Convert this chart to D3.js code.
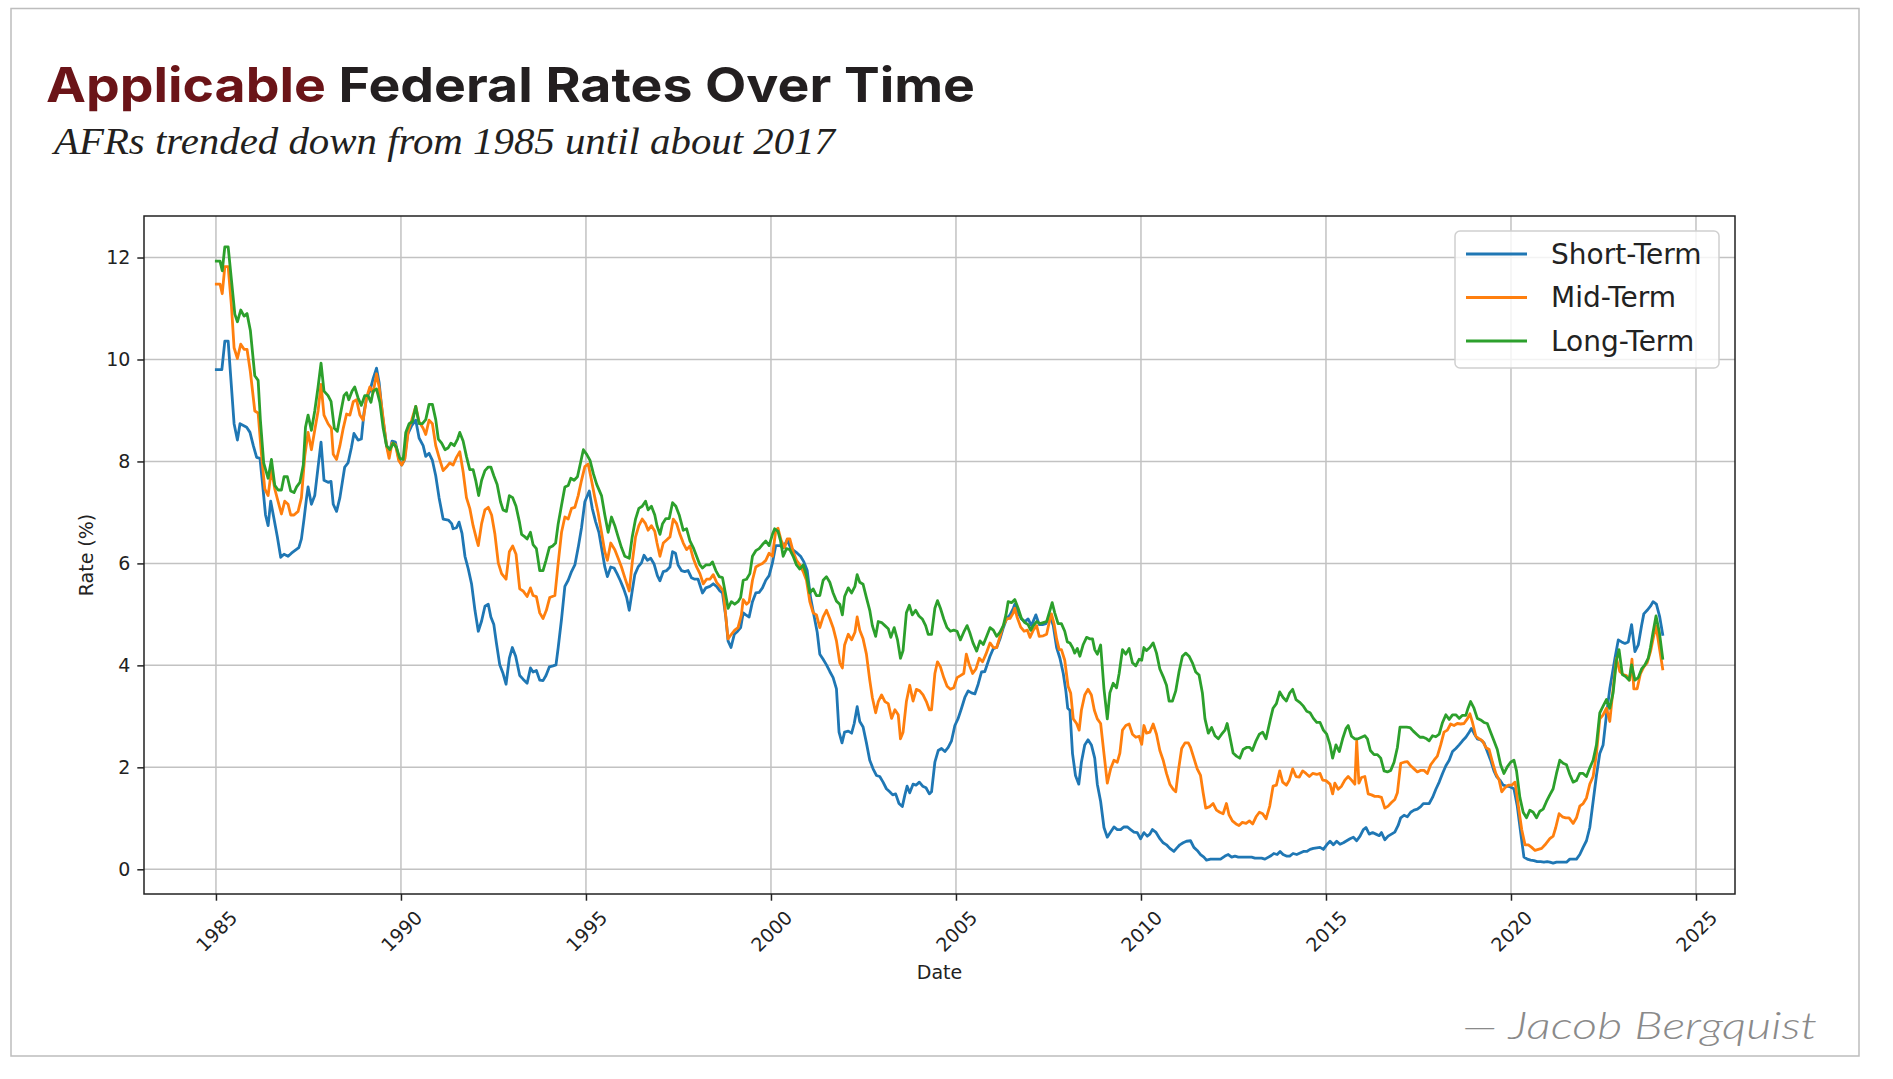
<!DOCTYPE html>
<html><head><meta charset="utf-8">
<script src="https://cdn.jsdelivr.net/npm/d3@7"></script>
<style>
html,body{margin:0;padding:0;background:#fff;}
svg{display:block;}
</style></head><body>
<svg id="chart" width="1893" height="1079"></svg>
<script>
// ---------------- DATA ----------------
const seriesNames = ["Short-Term", "Mid-Term", "Long-Term"];
const xTickYears = [1985, 1990, 1995, 2000, 2005, 2010, 2015, 2020, 2025];
const yTickValues = [0, 2, 4, 6, 8, 10, 12];
const titleAccent = "Applicable";
const titleRest = " Federal Rates Over Time";
const subtitle = "AFRs trended down from 1985 until about 2017";
const credit = "\u2014 Jacob Bergquist";
const xLabel = "Date";
const yLabel = "Rate (%)";

// [decimal year, rate %]
const shortTerm = [
[1985.01,9.80],[1985.16,9.80],[1985.24,10.36],[1985.33,10.36],[1985.49,8.74],[1985.58,8.42],[1985.65,8.74],[1985.83,8.67],[1985.92,8.57],
[1986.01,8.31],[1986.10,8.08],[1986.19,8.06],[1986.25,7.63],[1986.34,6.95],[1986.41,6.74],[1986.48,7.22],[1986.57,6.87],[1986.66,6.52],[1986.75,6.12],[1986.84,6.18],[1986.95,6.14],
[1987.04,6.20],[1987.13,6.25],[1987.24,6.31],[1987.31,6.48],[1987.38,6.87],[1987.45,7.29],[1987.49,7.50],[1987.58,7.16],[1987.67,7.33],[1987.76,7.89],[1987.84,8.38],[1987.92,7.63],
[1988.03,7.59],[1988.11,7.61],[1988.17,7.16],[1988.26,7.02],[1988.35,7.29],[1988.48,7.89],[1988.57,7.97],[1988.66,8.27],[1988.73,8.55],[1988.84,8.42],[1988.93,8.44],
[1989.00,8.95],[1989.07,9.25],[1989.16,9.38],[1989.25,9.63],[1989.34,9.83],[1989.41,9.55],[1989.50,8.91],[1989.61,8.31],[1989.68,8.14],[1989.76,8.40],[1989.85,8.38],[1989.94,8.06],
[1990.02,7.93],[1990.09,8.02],[1990.18,8.53],[1990.29,8.70],[1990.40,8.81],[1990.49,8.46],[1990.60,8.31],[1990.67,8.10],[1990.76,8.16],[1990.85,8.02],[1990.94,7.72],
[1991.03,7.29],[1991.14,6.87],[1991.28,6.85],[1991.37,6.78],[1991.41,6.68],[1991.50,6.70],[1991.57,6.81],[1991.65,6.59],[1991.73,6.14],[1991.82,5.89],[1991.91,5.59],
[1992.00,5.08],[1992.09,4.67],[1992.18,4.87],[1992.27,5.16],[1992.36,5.20],[1992.43,4.95],[1992.51,4.80],[1992.58,4.44],[1992.67,4.01],[1992.76,3.84],[1992.84,3.63],[1992.93,4.14],
[1993.01,4.35],[1993.10,4.18],[1993.21,3.80],[1993.30,3.73],[1993.41,3.65],[1993.50,3.95],[1993.57,3.87],[1993.66,3.90],[1993.75,3.71],[1993.84,3.70],[1993.92,3.80],
[1994.01,3.97],[1994.11,3.99],[1994.19,4.01],[1994.25,4.35],[1994.34,4.91],[1994.43,5.55],[1994.52,5.67],[1994.61,5.84],[1994.70,5.97],[1994.79,6.31],[1994.88,6.70],[1994.97,7.21],
[1995.09,7.42],[1995.17,7.08],[1995.26,6.82],[1995.35,6.61],[1995.44,6.23],[1995.51,5.93],[1995.58,5.74],[1995.67,5.93],[1995.76,5.91],[1995.84,5.80],[1995.93,5.66],
[1996.02,5.50],[1996.10,5.33],[1996.17,5.08],[1996.25,5.46],[1996.32,5.78],[1996.41,5.93],[1996.50,6.01],[1996.57,6.16],[1996.66,6.06],[1996.75,6.10],[1996.84,5.99],[1996.93,5.76],
[1997.00,5.66],[1997.09,5.84],[1997.18,5.86],[1997.27,5.93],[1997.34,6.23],[1997.42,6.20],[1997.49,5.97],[1997.58,5.86],[1997.67,5.84],[1997.76,5.86],[1997.85,5.72],[1997.94,5.69],
[1998.03,5.69],[1998.15,5.42],[1998.24,5.52],[1998.35,5.55],[1998.44,5.60],[1998.53,5.55],[1998.62,5.46],[1998.69,5.42],[1998.78,4.95],[1998.84,4.48],[1998.92,4.35],
[1999.01,4.61],[1999.10,4.67],[1999.18,4.74],[1999.25,5.03],[1999.32,4.99],[1999.41,4.95],[1999.50,5.25],[1999.59,5.42],[1999.68,5.43],[1999.77,5.52],[1999.86,5.67],[1999.95,5.76],
[2000.04,6.01],[2000.13,6.35],[2000.24,6.35],[2000.33,6.31],[2000.44,6.46],[2000.53,6.31],[2000.62,6.25],[2000.71,6.20],[2000.80,6.14],[2000.89,6.03],[2000.98,5.86],
[2001.07,5.33],[2001.16,4.99],[2001.25,4.65],[2001.32,4.22],[2001.41,4.12],[2001.50,4.01],[2001.59,3.88],[2001.68,3.76],[2001.77,3.54],[2001.84,2.69],[2001.92,2.48],[2001.99,2.69],
[2002.09,2.71],[2002.18,2.67],[2002.25,2.86],[2002.33,3.19],[2002.40,2.90],[2002.49,2.79],[2002.58,2.48],[2002.67,2.14],[2002.76,1.97],[2002.85,1.84],[2002.94,1.82],
[2003.03,1.71],[2003.12,1.58],[2003.21,1.52],[2003.29,1.46],[2003.37,1.48],[2003.46,1.29],[2003.55,1.23],[2003.62,1.46],[2003.68,1.63],[2003.75,1.50],[2003.84,1.67],[2003.92,1.65],
[2004.01,1.71],[2004.10,1.63],[2004.19,1.60],[2004.28,1.48],[2004.34,1.52],[2004.43,2.10],[2004.52,2.33],[2004.61,2.37],[2004.70,2.31],[2004.79,2.39],[2004.88,2.52],[2004.97,2.82],
[2005.06,2.96],[2005.15,3.16],[2005.24,3.37],[2005.33,3.50],[2005.42,3.46],[2005.51,3.44],[2005.60,3.63],[2005.69,3.87],[2005.78,3.88],[2005.92,4.18],
[2006.01,4.33],[2006.10,4.35],[2006.19,4.52],[2006.28,4.74],[2006.37,4.92],[2006.46,4.99],[2006.55,5.12],[2006.59,5.20],[2006.68,5.03],[2006.77,4.91],[2006.86,4.86],[2006.95,4.91],
[2007.04,4.78],[2007.16,4.99],[2007.25,4.80],[2007.34,4.80],[2007.43,4.82],[2007.54,4.97],[2007.63,4.78],[2007.72,4.35],[2007.81,4.14],[2007.90,3.84],[2007.97,3.50],
[2008.02,3.16],[2008.08,3.12],[2008.15,2.27],[2008.23,1.84],[2008.32,1.67],[2008.39,2.10],[2008.48,2.44],[2008.57,2.54],[2008.66,2.44],[2008.75,2.18],[2008.82,1.67],[2008.91,1.33],
[2009.00,0.82],[2009.09,0.63],[2009.18,0.73],[2009.27,0.83],[2009.36,0.78],[2009.45,0.78],[2009.54,0.83],[2009.63,0.83],[2009.72,0.78],[2009.81,0.73],[2009.90,0.72],[2009.99,0.60],
[2010.08,0.72],[2010.17,0.65],[2010.24,0.69],[2010.31,0.78],[2010.40,0.73],[2010.51,0.60],[2010.60,0.52],[2010.69,0.48],[2010.78,0.41],[2010.89,0.35],[2010.96,0.41],
[2011.05,0.48],[2011.14,0.52],[2011.23,0.55],[2011.34,0.56],[2011.43,0.43],[2011.52,0.37],[2011.61,0.29],[2011.70,0.24],[2011.77,0.18],[2011.88,0.20],[2011.97,0.20],
[2012.06,0.20],[2012.15,0.20],[2012.27,0.26],[2012.36,0.29],[2012.45,0.24],[2012.54,0.26],[2012.63,0.24],[2012.72,0.24],[2012.81,0.24],[2012.90,0.24],[2012.99,0.24],
[2013.08,0.22],[2013.17,0.22],[2013.26,0.22],[2013.35,0.20],[2013.50,0.26],[2013.59,0.31],[2013.68,0.29],[2013.76,0.35],[2013.84,0.29],[2013.93,0.26],
[2014.02,0.26],[2014.11,0.31],[2014.21,0.29],[2014.30,0.32],[2014.39,0.35],[2014.48,0.35],[2014.57,0.39],[2014.66,0.41],[2014.75,0.42],[2014.84,0.43],[2014.93,0.39],
[2015.02,0.48],[2015.11,0.55],[2015.20,0.48],[2015.29,0.55],[2015.38,0.49],[2015.47,0.52],[2015.56,0.56],[2015.65,0.60],[2015.74,0.63],[2015.83,0.56],[2015.92,0.65],
[2016.01,0.78],[2016.08,0.82],[2016.17,0.69],[2016.26,0.72],[2016.35,0.69],[2016.44,0.66],[2016.50,0.72],[2016.59,0.58],[2016.68,0.65],[2016.77,0.69],[2016.86,0.73],[2016.95,0.86],
[2017.02,1.01],[2017.11,1.06],[2017.20,1.03],[2017.29,1.12],[2017.38,1.16],[2017.47,1.18],[2017.56,1.23],[2017.63,1.29],[2017.72,1.29],[2017.79,1.29],[2017.88,1.41],[2017.97,1.57],
[2018.06,1.71],[2018.15,1.88],[2018.24,2.03],[2018.33,2.14],[2018.42,2.31],[2018.51,2.37],[2018.60,2.44],[2018.69,2.52],[2018.78,2.59],[2018.87,2.69],[2018.93,2.76],
[2019.00,2.67],[2019.09,2.56],[2019.18,2.54],[2019.27,2.48],[2019.36,2.31],[2019.45,2.14],[2019.54,1.93],[2019.61,1.82],[2019.70,1.75],[2019.79,1.65],[2019.88,1.63],[2019.97,1.62],
[2020.08,1.58],[2020.17,1.24],[2020.26,0.73],[2020.35,0.24],[2020.44,0.20],[2020.53,0.18],[2020.62,0.17],[2020.71,0.15],[2020.80,0.15],[2020.89,0.14],[2020.98,0.15],
[2021.05,0.14],[2021.14,0.12],[2021.23,0.14],[2021.32,0.14],[2021.41,0.14],[2021.50,0.14],[2021.59,0.20],[2021.68,0.20],[2021.77,0.20],[2021.86,0.29],[2021.95,0.43],
[2022.04,0.56],[2022.13,0.82],[2022.22,1.33],[2022.31,1.84],[2022.40,2.27],[2022.49,2.44],[2022.58,3.03],[2022.67,3.54],[2022.74,3.84],[2022.81,4.14],[2022.90,4.50],[2022.99,4.46],
[2023.08,4.43],[2023.17,4.46],[2023.26,4.80],[2023.35,4.27],[2023.44,4.40],[2023.53,4.78],[2023.59,5.01],[2023.68,5.08],[2023.77,5.16],[2023.84,5.25],[2023.93,5.20],
[2024.02,4.95],[2024.10,4.61]
];

const midTerm = [
[1985.01,11.48],[1985.11,11.48],[1985.17,11.29],[1985.24,11.82],[1985.33,11.82],[1985.42,11.04],[1985.49,10.23],[1985.58,10.02],[1985.67,10.30],[1985.76,10.20],[1985.84,10.20],[1985.93,9.76],
[1986.05,8.99],[1986.14,8.95],[1986.23,8.14],[1986.32,7.46],[1986.41,7.33],[1986.50,7.84],[1986.59,7.46],[1986.68,7.21],[1986.77,6.97],[1986.86,7.22],[1986.95,7.16],
[1987.02,6.95],[1987.11,6.95],[1987.22,7.02],[1987.31,7.29],[1987.40,8.10],[1987.49,8.57],[1987.58,8.23],[1987.67,8.61],[1987.76,8.99],[1987.84,9.51],[1987.92,8.91],
[1988.03,8.74],[1988.12,8.65],[1988.17,8.14],[1988.26,8.04],[1988.35,8.31],[1988.44,8.65],[1988.53,8.93],[1988.62,8.91],[1988.71,9.17],[1988.80,9.21],[1988.89,8.91],[1988.98,8.81],
[1989.07,9.25],[1989.16,9.46],[1989.25,9.35],[1989.34,9.72],[1989.41,9.46],[1989.50,8.95],[1989.61,8.31],[1989.68,8.06],[1989.76,8.36],[1989.85,8.33],[1989.94,8.02],
[1990.02,7.93],[1990.11,8.06],[1990.20,8.61],[1990.29,8.81],[1990.40,9.08],[1990.49,8.78],[1990.60,8.65],[1990.67,8.53],[1990.76,8.81],[1990.85,8.74],[1990.94,8.31],
[1991.03,8.08],[1991.14,7.82],[1991.23,7.89],[1991.32,7.97],[1991.41,7.93],[1991.50,8.08],[1991.59,8.19],[1991.68,7.80],[1991.77,7.29],[1991.86,7.08],[1991.95,6.74],
[1992.04,6.48],[1992.09,6.35],[1992.18,6.78],[1992.27,7.05],[1992.36,7.10],[1992.45,6.95],[1992.54,6.57],[1992.63,6.01],[1992.72,5.80],[1992.84,5.69],[1992.93,6.23],
[1993.02,6.34],[1993.11,6.18],[1993.21,5.50],[1993.30,5.46],[1993.41,5.35],[1993.50,5.52],[1993.57,5.37],[1993.66,5.35],[1993.75,5.03],[1993.84,4.92],[1993.93,5.08],
[1994.02,5.33],[1994.16,5.37],[1994.25,6.01],[1994.34,6.61],[1994.43,6.91],[1994.52,6.87],[1994.61,7.08],[1994.70,7.10],[1994.79,7.33],[1994.88,7.63],[1994.97,7.90],
[1995.06,7.95],[1995.15,7.63],[1995.24,7.29],[1995.33,6.99],[1995.42,6.61],[1995.51,6.23],[1995.58,6.06],[1995.67,6.40],[1995.78,6.27],[1995.87,6.10],[1995.96,5.93],
[1996.05,5.72],[1996.17,5.46],[1996.25,6.01],[1996.34,6.52],[1996.43,6.74],[1996.52,6.87],[1996.61,6.78],[1996.68,6.65],[1996.77,6.74],[1996.86,6.63],[1996.92,6.40],
[1997.00,6.14],[1997.09,6.40],[1997.18,6.46],[1997.27,6.52],[1997.36,6.87],[1997.45,6.78],[1997.54,6.57],[1997.63,6.40],[1997.72,6.27],[1997.81,6.34],[1997.90,6.10],[1997.99,5.93],
[1998.08,5.80],[1998.17,5.60],[1998.26,5.69],[1998.35,5.69],[1998.44,5.78],[1998.53,5.63],[1998.62,5.55],[1998.71,5.46],[1998.78,4.95],[1998.84,4.52],[1998.93,4.61],
[1999.02,4.69],[1999.11,4.74],[1999.20,4.99],[1999.25,5.29],[1999.34,5.20],[1999.41,5.25],[1999.50,5.67],[1999.59,5.93],[1999.68,5.97],[1999.77,6.00],[1999.86,6.06],[1999.95,6.20],
[2000.04,6.14],[2000.13,6.65],[2000.19,6.69],[2000.28,6.44],[2000.37,6.31],[2000.44,6.48],[2000.51,6.48],[2000.60,6.23],[2000.69,6.06],[2000.78,5.97],[2000.87,5.84],[2000.96,5.67],
[2001.05,5.25],[2001.14,5.03],[2001.23,4.99],[2001.32,4.74],[2001.41,4.95],[2001.50,5.08],[2001.59,4.92],[2001.68,4.74],[2001.77,4.48],[2001.86,4.05],[2001.93,3.95],[2001.99,4.40],
[2002.09,4.61],[2002.18,4.50],[2002.27,4.65],[2002.33,4.95],[2002.40,4.69],[2002.49,4.52],[2002.58,4.22],[2002.67,3.71],[2002.74,3.37],[2002.83,3.07],[2002.90,3.29],[2002.99,3.42],
[2003.08,3.29],[2003.17,3.25],[2003.26,2.96],[2003.35,3.13],[2003.44,3.03],[2003.50,2.56],[2003.57,2.69],[2003.66,3.29],[2003.75,3.61],[2003.84,3.30],[2003.93,3.53],
[2004.02,3.50],[2004.11,3.42],[2004.20,3.29],[2004.28,3.13],[2004.34,3.13],[2004.43,3.84],[2004.50,4.07],[2004.58,3.97],[2004.67,3.76],[2004.76,3.59],[2004.85,3.53],[2004.94,3.56],
[2005.03,3.76],[2005.12,3.80],[2005.21,3.84],[2005.28,4.22],[2005.36,4.01],[2005.45,3.84],[2005.54,3.93],[2005.63,4.14],[2005.72,4.07],[2005.81,4.22],[2005.92,4.44],
[2006.01,4.35],[2006.10,4.35],[2006.19,4.57],[2006.28,4.78],[2006.37,4.91],[2006.46,4.92],[2006.55,5.03],[2006.59,5.12],[2006.65,4.95],[2006.75,4.75],[2006.84,4.67],[2006.93,4.69],
[2007.00,4.55],[2007.09,4.69],[2007.18,4.78],[2007.25,4.57],[2007.36,4.58],[2007.45,4.61],[2007.54,4.91],[2007.58,5.01],[2007.65,4.82],[2007.72,4.52],[2007.79,4.31],[2007.85,4.31],[2007.94,4.10],
[2008.03,3.59],[2008.10,3.46],[2008.17,2.95],[2008.26,2.86],[2008.33,2.73],[2008.39,3.12],[2008.48,3.42],[2008.57,3.53],[2008.66,3.42],[2008.74,3.12],[2008.82,2.95],[2008.91,2.86],
[2009.00,2.27],[2009.09,1.69],[2009.18,1.97],[2009.27,2.14],[2009.36,2.10],[2009.43,2.28],[2009.50,2.73],[2009.59,2.82],[2009.68,2.85],[2009.77,2.65],[2009.86,2.59],[2009.95,2.61],
[2010.02,2.45],[2010.08,2.82],[2010.15,2.67],[2010.24,2.69],[2010.33,2.85],[2010.42,2.65],[2010.51,2.33],[2010.60,2.14],[2010.69,1.88],[2010.78,1.67],[2010.87,1.57],[2010.94,1.52],
[2011.01,1.93],[2011.10,2.37],[2011.19,2.48],[2011.28,2.48],[2011.34,2.39],[2011.43,2.18],[2011.52,1.97],[2011.61,1.84],[2011.68,1.50],[2011.75,1.20],[2011.86,1.23],[2011.95,1.29],
[2012.04,1.16],[2012.13,1.12],[2012.22,1.09],[2012.31,1.29],[2012.38,1.07],[2012.47,0.95],[2012.57,0.89],[2012.65,0.86],[2012.74,0.92],[2012.84,0.90],[2012.93,0.95],
[2013.02,0.89],[2013.11,1.03],[2013.20,1.12],[2013.29,1.09],[2013.38,0.99],[2013.48,1.24],[2013.57,1.63],[2013.66,1.65],[2013.75,1.93],[2013.83,1.71],[2013.93,1.65],
[2014.01,1.75],[2014.10,1.97],[2014.19,1.82],[2014.28,1.81],[2014.37,1.93],[2014.46,1.88],[2014.55,1.82],[2014.64,1.88],[2014.75,1.86],[2014.84,1.88],[2014.91,1.75],
[2015.00,1.74],[2015.11,1.67],[2015.18,1.48],[2015.24,1.69],[2015.33,1.57],[2015.42,1.63],[2015.51,1.75],[2015.60,1.82],[2015.69,1.75],[2015.78,1.67],[2015.83,2.52],[2015.89,1.69],[2015.96,1.80],
[2016.05,1.82],[2016.14,1.48],[2016.23,1.46],[2016.32,1.43],[2016.41,1.43],[2016.50,1.41],[2016.59,1.20],[2016.68,1.24],[2016.77,1.31],[2016.86,1.37],[2016.93,1.50],
[2017.02,2.08],[2017.11,2.10],[2017.20,2.11],[2017.29,2.03],[2017.38,1.97],[2017.47,1.91],[2017.56,1.94],[2017.65,1.94],[2017.74,1.88],[2017.83,2.05],[2017.92,2.14],
[2018.01,2.22],[2018.10,2.44],[2018.19,2.69],[2018.28,2.73],[2018.37,2.85],[2018.46,2.82],[2018.55,2.86],[2018.64,2.85],[2018.73,2.86],[2018.82,2.95],[2018.89,3.05],[2018.96,2.88],
[2019.05,2.61],[2019.14,2.56],[2019.23,2.52],[2019.32,2.39],[2019.41,2.35],[2019.50,2.10],[2019.59,1.88],[2019.68,1.75],[2019.75,1.52],[2019.84,1.60],[2019.93,1.65],
[2020.02,1.65],[2020.11,1.71],[2020.20,1.24],[2020.29,0.78],[2020.38,0.48],[2020.47,0.48],[2020.56,0.43],[2020.65,0.37],[2020.74,0.39],[2020.83,0.41],[2020.92,0.48],
[2021.05,0.60],[2021.14,0.65],[2021.21,0.82],[2021.30,1.09],[2021.39,1.03],[2021.48,1.01],[2021.57,1.01],[2021.68,0.90],[2021.77,1.01],[2021.86,1.24],[2021.95,1.29],
[2022.04,1.40],[2022.13,1.67],[2022.22,1.82],[2022.31,2.27],[2022.40,2.95],[2022.49,3.03],[2022.58,3.16],[2022.67,2.90],[2022.76,3.54],[2022.85,4.14],[2022.94,3.88],
[2023.03,3.82],[2023.12,3.80],[2023.21,3.71],[2023.27,4.12],[2023.32,3.54],[2023.41,3.54],[2023.50,3.84],[2023.59,3.97],[2023.68,4.05],[2023.77,4.27],[2023.84,4.52],[2023.92,4.78],
[2024.01,4.35],[2024.10,3.93]
];

const longTerm = [
[1985.01,11.93],[1985.11,11.93],[1985.17,11.74],[1985.24,12.21],[1985.33,12.21],[1985.42,11.55],[1985.51,10.89],[1985.58,10.74],[1985.67,10.97],[1985.76,10.85],[1985.84,10.90],[1985.93,10.57],
[1986.05,9.68],[1986.14,9.59],[1986.20,8.82],[1986.29,7.97],[1986.41,7.67],[1986.50,8.04],[1986.59,7.53],[1986.68,7.44],[1986.77,7.44],[1986.84,7.70],[1986.93,7.70],
[1987.02,7.42],[1987.11,7.39],[1987.18,7.50],[1987.27,7.59],[1987.36,7.93],[1987.42,8.67],[1987.49,8.91],[1987.58,8.61],[1987.67,8.99],[1987.76,9.46],[1987.84,9.93],[1987.92,9.38],
[1988.03,9.29],[1988.11,9.18],[1988.20,8.65],[1988.28,8.59],[1988.37,8.95],[1988.46,9.29],[1988.53,9.35],[1988.59,9.21],[1988.68,9.38],[1988.75,9.46],[1988.84,9.25],[1988.93,9.10],
[1989.02,9.29],[1989.11,9.29],[1989.19,9.16],[1989.25,9.38],[1989.34,9.42],[1989.43,9.16],[1989.52,8.65],[1989.61,8.31],[1989.70,8.23],[1989.79,8.36],[1989.88,8.27],[1989.97,8.06],
[1990.06,8.04],[1990.13,8.57],[1990.22,8.74],[1990.31,8.78],[1990.40,9.08],[1990.49,8.74],[1990.58,8.74],[1990.67,8.82],[1990.76,9.12],[1990.85,9.12],[1990.94,8.82],
[1991.01,8.44],[1991.10,8.36],[1991.19,8.23],[1991.28,8.27],[1991.35,8.36],[1991.44,8.31],[1991.53,8.44],[1991.59,8.57],[1991.68,8.40],[1991.77,8.10],[1991.86,7.84],[1991.95,7.84],
[1992.02,7.63],[1992.10,7.33],[1992.18,7.63],[1992.27,7.82],[1992.36,7.89],[1992.43,7.89],[1992.51,7.72],[1992.60,7.55],[1992.69,7.21],[1992.76,7.05],[1992.85,7.02],[1992.93,7.33],
[1993.02,7.29],[1993.11,7.12],[1993.20,6.82],[1993.26,6.57],[1993.35,6.52],[1993.41,6.48],[1993.50,6.61],[1993.57,6.37],[1993.66,6.29],[1993.75,5.86],[1993.84,5.86],[1993.92,6.06],
[1994.01,6.31],[1994.10,6.34],[1994.18,6.40],[1994.25,6.78],[1994.34,7.14],[1994.43,7.50],[1994.52,7.53],[1994.59,7.67],[1994.68,7.63],[1994.77,7.70],[1994.84,7.93],[1994.93,8.23],
[1995.02,8.14],[1995.11,8.02],[1995.20,7.76],[1995.29,7.55],[1995.42,7.33],[1995.51,6.95],[1995.60,6.61],[1995.69,6.91],[1995.78,6.74],[1995.87,6.52],[1995.96,6.31],
[1996.05,6.14],[1996.17,6.10],[1996.25,6.52],[1996.34,6.87],[1996.43,7.08],[1996.52,7.12],[1996.61,7.22],[1996.68,7.05],[1996.77,7.12],[1996.86,6.95],[1996.92,6.74],
[1997.00,6.57],[1997.07,6.78],[1997.16,6.88],[1997.25,6.88],[1997.34,7.19],[1997.43,7.12],[1997.52,6.95],[1997.63,6.65],[1997.72,6.68],[1997.81,6.44],[1997.90,6.31],[1997.99,6.14],
[1998.08,5.97],[1998.15,5.91],[1998.24,5.97],[1998.35,5.97],[1998.42,6.03],[1998.51,5.86],[1998.60,5.74],[1998.69,5.72],[1998.78,5.37],[1998.84,5.12],[1998.93,5.25],
[1999.02,5.20],[1999.11,5.25],[1999.18,5.33],[1999.25,5.67],[1999.34,5.69],[1999.43,5.80],[1999.50,6.14],[1999.59,6.25],[1999.68,6.29],[1999.77,6.37],[1999.86,6.44],[1999.95,6.35],
[2000.04,6.57],[2000.10,6.68],[2000.19,6.63],[2000.26,6.44],[2000.33,6.14],[2000.42,6.29],[2000.51,6.27],[2000.60,6.14],[2000.69,5.97],[2000.78,5.89],[2000.87,5.97],[2000.96,5.76],
[2001.05,5.42],[2001.14,5.50],[2001.23,5.37],[2001.32,5.37],[2001.41,5.67],[2001.50,5.74],[2001.59,5.63],[2001.68,5.42],[2001.77,5.26],[2001.86,5.20],[2001.93,4.99],[2001.99,5.35],
[2002.09,5.52],[2002.18,5.42],[2002.27,5.55],[2002.33,5.78],[2002.40,5.63],[2002.49,5.59],[2002.58,5.33],[2002.67,5.08],[2002.74,4.78],[2002.83,4.57],[2002.90,4.86],[2002.99,4.84],
[2003.08,4.78],[2003.17,4.72],[2003.24,4.55],[2003.33,4.74],[2003.42,4.50],[2003.50,4.14],[2003.57,4.29],[2003.66,5.03],[2003.74,5.18],[2003.82,4.99],[2003.91,5.08],
[2004.00,4.97],[2004.09,4.91],[2004.18,4.78],[2004.25,4.61],[2004.34,4.61],[2004.43,5.12],[2004.50,5.27],[2004.58,5.12],[2004.67,4.91],[2004.76,4.74],[2004.85,4.67],[2004.94,4.69],
[2005.03,4.67],[2005.12,4.50],[2005.21,4.65],[2005.30,4.78],[2005.37,4.65],[2005.46,4.44],[2005.56,4.28],[2005.65,4.48],[2005.74,4.41],[2005.83,4.57],[2005.92,4.74],
[2006.01,4.69],[2006.10,4.57],[2006.19,4.65],[2006.28,4.78],[2006.35,4.99],[2006.41,5.25],[2006.50,5.23],[2006.59,5.29],[2006.68,5.12],[2006.77,4.92],[2006.86,4.84],[2006.95,4.80],
[2007.02,4.69],[2007.09,4.78],[2007.18,4.86],[2007.27,4.82],[2007.36,4.84],[2007.45,4.86],[2007.54,5.08],[2007.60,5.23],[2007.67,5.03],[2007.76,4.82],[2007.85,4.82],[2007.94,4.67],
[2008.01,4.46],[2008.08,4.44],[2008.15,4.35],[2008.21,4.24],[2008.28,4.33],[2008.35,4.18],[2008.44,4.41],[2008.53,4.55],[2008.62,4.52],[2008.69,4.52],[2008.75,4.31],[2008.82,4.22],[2008.91,4.40],
[2009.00,3.54],[2009.09,2.95],[2009.16,3.46],[2009.25,3.65],[2009.34,3.56],[2009.41,3.84],[2009.50,4.31],[2009.59,4.22],[2009.68,4.33],[2009.77,4.05],[2009.86,3.99],[2009.95,4.12],
[2010.02,4.10],[2010.08,4.35],[2010.15,4.29],[2010.24,4.35],[2010.33,4.44],[2010.42,4.24],[2010.51,3.93],[2010.60,3.78],[2010.69,3.61],[2010.76,3.30],[2010.85,3.30],[2010.94,3.50],
[2011.03,3.88],[2011.12,4.18],[2011.21,4.24],[2011.30,4.18],[2011.39,4.05],[2011.48,3.87],[2011.57,3.81],[2011.66,3.46],[2011.73,2.95],[2011.82,2.67],[2011.91,2.78],
[2012.00,2.62],[2012.09,2.56],[2012.18,2.65],[2012.27,2.73],[2012.33,2.86],[2012.40,2.61],[2012.49,2.28],[2012.58,2.22],[2012.67,2.18],[2012.76,2.35],[2012.85,2.39],[2012.94,2.39],
[2013.01,2.33],[2013.11,2.52],[2013.20,2.65],[2013.29,2.69],[2013.38,2.56],[2013.50,2.95],[2013.57,3.16],[2013.66,3.25],[2013.75,3.48],[2013.84,3.37],[2013.93,3.30],
[2014.02,3.46],[2014.10,3.53],[2014.19,3.33],[2014.30,3.27],[2014.39,3.20],[2014.48,3.10],[2014.57,3.07],[2014.66,2.96],[2014.75,2.88],[2014.84,2.88],[2014.93,2.73],
[2015.02,2.65],[2015.11,2.44],[2015.18,2.18],[2015.27,2.44],[2015.36,2.31],[2015.45,2.56],[2015.54,2.76],[2015.60,2.82],[2015.69,2.61],[2015.78,2.56],[2015.87,2.56],[2015.96,2.59],
[2016.05,2.62],[2016.12,2.56],[2016.20,2.33],[2016.30,2.25],[2016.39,2.25],[2016.48,2.18],[2016.57,1.93],[2016.66,1.91],[2016.75,1.94],[2016.84,2.10],[2016.93,2.39],
[2017.00,2.79],[2017.09,2.79],[2017.18,2.79],[2017.27,2.78],[2017.36,2.71],[2017.45,2.65],[2017.54,2.59],[2017.63,2.59],[2017.72,2.56],[2017.79,2.52],[2017.88,2.62],[2017.97,2.60],
[2018.06,2.65],[2018.15,2.88],[2018.24,3.03],[2018.33,2.94],[2018.42,3.03],[2018.51,3.03],[2018.60,2.96],[2018.69,3.02],[2018.78,3.02],[2018.84,3.16],[2018.91,3.29],
[2019.00,3.16],[2019.09,2.96],[2019.18,2.93],[2019.27,2.88],[2019.36,2.86],[2019.45,2.69],[2019.54,2.52],[2019.63,2.35],[2019.72,2.05],[2019.81,1.88],[2019.90,2.01],[2019.99,2.10],
[2020.08,2.14],[2020.15,1.93],[2020.24,1.41],[2020.33,1.12],[2020.42,1.01],[2020.51,1.16],[2020.60,1.12],[2020.69,1.01],[2020.78,1.14],[2020.87,1.18],[2020.96,1.33],
[2021.05,1.46],[2021.14,1.58],[2021.23,1.88],[2021.32,2.14],[2021.41,2.08],[2021.50,2.05],[2021.59,1.86],[2021.68,1.71],[2021.77,1.74],[2021.86,1.88],[2021.95,1.88],
[2022.04,1.82],[2022.13,1.99],[2022.22,2.14],[2022.31,2.44],[2022.40,3.07],[2022.49,3.20],[2022.58,3.33],[2022.67,3.16],[2022.76,3.46],[2022.85,4.10],[2022.92,4.31],
[2023.01,3.82],[2023.10,3.78],[2023.19,3.71],[2023.26,4.01],[2023.35,3.71],[2023.44,3.76],[2023.53,3.93],[2023.62,4.01],[2023.71,4.14],[2023.77,4.35],[2023.84,4.65],[2023.92,4.97],
[2024.01,4.65],[2024.10,4.14]
];

const seriesData = [shortTerm, midTerm, longTerm];
const seriesColors = ["#1f77b4", "#ff7f0e", "#2ca02c"];

// ---------------- LAYOUT ----------------
const svg = d3.select("#chart");
const plot = {left: 144, right: 1735, top: 216, bottom: 894};

// outer frame
svg.append("rect").attr("x", 11).attr("y", 8.5).attr("width", 1848).attr("height", 1047.5)
  .attr("fill", "none").attr("stroke", "#bdbdbd").attr("stroke-width", 1.5);

// title
const title = svg.append("text").attr("x", 46).attr("y", 102)
  .attr("font-family", "Inter, 'Noto Sans', sans-serif").attr("font-weight", 700)
  .attr("font-size", 48).attr("textLength", 929).attr("lengthAdjust", "spacingAndGlyphs");
title.append("tspan").attr("fill", "#6b1418").text(titleAccent);
title.append("tspan").attr("fill", "#231f20").text(titleRest);

svg.append("text").attr("x", 54).attr("y", 154)
  .attr("font-family", "'Liberation Serif', 'DejaVu Serif', serif").attr("font-style", "italic")
  .attr("font-size", 38).attr("fill", "#231f20")
  .attr("textLength", 781).attr("lengthAdjust", "spacingAndGlyphs").text(subtitle);

svg.append("text").attr("x", 1462).attr("y", 1039)
  .attr("font-family", "Lato, 'Open Sans', sans-serif").attr("font-style", "italic").attr("font-weight", 300)
  .attr("font-size", 37).attr("fill", "#8a8a8a")
  .attr("textLength", 355).attr("lengthAdjust", "spacingAndGlyphs").text(credit);

// scales (matplotlib-like 5% margins)
const allPts = seriesData.flat();
const xExt = d3.extent(allPts, d => d[0]);
const yExt = d3.extent(allPts, d => d[1]);
const xPad = (xExt[1] - xExt[0]) * 0.05;
const yPad = (yExt[1] - yExt[0]) * 0.05;
const x = d3.scaleLinear().domain([xExt[0] - xPad, xExt[1] + xPad]).range([plot.left, plot.right]);
const y = d3.scaleLinear().domain([yExt[0] - yPad, yExt[1] + yPad]).range([plot.bottom, plot.top]);

const font = "'DejaVu Sans', sans-serif";
const gridColor = "#c2c2c2";
const tickFont = 19;

// grid
const grid = svg.append("g");
grid.selectAll(".vg").data(xTickYears).join("line")
  .attr("x1", d => x(d)).attr("x2", d => x(d)).attr("y1", plot.top).attr("y2", plot.bottom)
  .attr("stroke", gridColor).attr("stroke-width", 1.5);
grid.selectAll(".hg").data(yTickValues).join("line")
  .attr("x1", plot.left).attr("x2", plot.right).attr("y1", d => y(d)).attr("y2", d => y(d))
  .attr("stroke", gridColor).attr("stroke-width", 1.5);

// lines
const line = d3.line().x(d => x(d[0])).y(d => y(d[1]));
const clipId = "plotclip";
svg.append("clipPath").attr("id", clipId).append("rect")
  .attr("x", plot.left).attr("y", plot.top).attr("width", plot.right - plot.left).attr("height", plot.bottom - plot.top);
const lg = svg.append("g").attr("clip-path", `url(#${clipId})`);
seriesData.forEach((s, i) => {
  lg.append("path").datum(s).attr("d", line).attr("fill", "none")
    .attr("stroke", seriesColors[i]).attr("stroke-width", 2.8)
    .attr("stroke-linejoin", "round").attr("stroke-linecap", "square");
});

// axes
const xAxis = svg.append("g").attr("transform", `translate(0,${plot.bottom})`)
  .call(d3.axisBottom(x).tickValues(xTickYears).tickFormat(d3.format("d")).tickSize(6.7).tickSizeOuter(0));
xAxis.select(".domain").remove();
xAxis.selectAll(".tick line").attr("stroke", "#222").attr("stroke-width", 1.5);
xAxis.selectAll(".tick text")
  .attr("font-family", font).attr("font-size", tickFont).attr("fill", "#222")
  .attr("text-anchor", "middle").attr("dominant-baseline", "central")
  .attr("y", 0).attr("dy", null)
  .attr("transform", "translate(0,37) rotate(-45)");

const yAxis = svg.append("g").attr("transform", `translate(${plot.left},0)`)
  .call(d3.axisLeft(y).tickValues(yTickValues).tickFormat(d3.format("d")).tickSize(6.7).tickPadding(7).tickSizeOuter(0));
yAxis.select(".domain").remove();
yAxis.selectAll(".tick line").attr("stroke", "#222").attr("stroke-width", 1.5);
yAxis.selectAll(".tick text").attr("font-family", font).attr("font-size", tickFont).attr("fill", "#222");

// spines
svg.append("rect").attr("x", plot.left).attr("y", plot.top)
  .attr("width", plot.right - plot.left).attr("height", plot.bottom - plot.top)
  .attr("fill", "none").attr("stroke", "#222").attr("stroke-width", 1.5);

// axis labels
svg.append("text").attr("x", (plot.left + plot.right) / 2).attr("y", 972)
  .attr("text-anchor", "middle").attr("dominant-baseline", "central")
  .attr("font-family", font).attr("font-size", tickFont).attr("fill", "#222").text(xLabel);
svg.append("text").attr("transform", `translate(86,${(plot.top + plot.bottom) / 2}) rotate(-90)`)
  .attr("text-anchor", "middle").attr("dominant-baseline", "central")
  .attr("font-family", font).attr("font-size", tickFont).attr("fill", "#222").text(yLabel);

// legend
const leg = svg.append("g");
leg.append("rect").attr("x", 1455).attr("y", 231).attr("width", 264).attr("height", 137).attr("rx", 5)
  .attr("fill", "#fff").attr("fill-opacity", 0.8).attr("stroke", "#d0d0d0").attr("stroke-width", 1.5);
seriesNames.forEach((n, i) => {
  const ly = 254 + i * 43.5;
  leg.append("line").attr("x1", 1466).attr("x2", 1527).attr("y1", ly).attr("y2", ly)
    .attr("stroke", seriesColors[i]).attr("stroke-width", 2.8);
  leg.append("text").attr("x", 1551).attr("y", ly).attr("dominant-baseline", "central")
    .attr("font-family", font).attr("font-size", 28).attr("fill", "#222").text(n);
});
</script>
</body></html>
